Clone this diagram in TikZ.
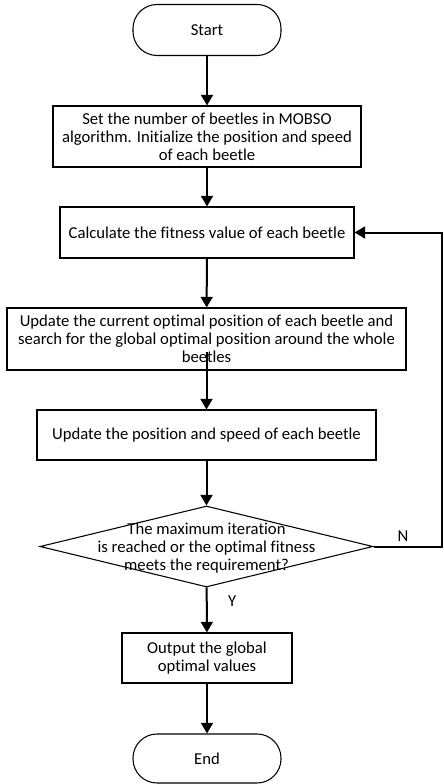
\documentclass[tikz,border=0pt]{standalone}
\usepackage{fontspec}
\setmainfont[Ligatures=NoCommon]{Carlito}
\usetikzlibrary{shapes.geometric,arrows.meta,positioning,calc}

\begin{document}
\begin{tikzpicture}[x=0.75pt, y=-0.75pt, font=\fontsize{12.5}{13.6}\selectfont,
    box/.style={draw, thick, align=center, inner sep=0pt},
    term/.style={draw, thick, rounded corners=18pt, minimum width=111pt},
    flow/.style={-{Triangle[length=8pt,width=9pt]}, line width=1.5pt}]
    \useasboundingbox (0,0) rectangle (443,784);

    % start
    \node[term, minimum height=38.25pt] (start) at (207,30) {Start};

    % init
    \node[box, minimum width=231pt, minimum height=45.75pt] (init) at (207,136.5)
        {Set the number of beetles in MOBSO\\algorithm. Initialize the position and speed\\of each beetle};

    % fitness
    \node[box, minimum width=220.5pt, minimum height=38.25pt] (fit) at (207,232.5)
        {Calculate the fitness value of each beetle};

    % best positions
    \node[box, minimum width=299.25pt, minimum height=46.5pt] (best) at (206.5,339)
        {Update the current optimal position of each beetle and\\search for the global optimal position around the whole\\beetles};

    % move beetles
    \node[box, minimum width=254.25pt, minimum height=37.5pt] (move) at (206.5,435)
        {Update the position and speed of each beetle};

    % stop test
    \node[draw, thick, diamond, inner sep=0pt, minimum width=249.75pt, minimum height=60.75pt] (stop) at (206.5,546.5) {};
    \node[align=center] (stoptxt) at ([yshift=-1pt]stop.center)
        {The maximum iteration\\is reached or the optimal fitness\\meets the requirement?};

    % output
    \node[box, minimum width=127.5pt, minimum height=37.5pt] (out) at (207,658)
        {Output the global\\optimal values};

    % end
    \node[term, minimum height=36.75pt] (end) at (207,758.5) {End};

    % arrows
    \coordinate (bestlow) at (206.5,352);
    \coordinate (loop) at (441.5,546.5);
    \draw[flow] (start) -- (init);
    \draw[flow] (init) -- (fit);
    \draw[flow] (fit) -- (best);
    \draw[flow] (bestlow) -- (move);
    \draw[flow] (move) -- (stop);
    \draw[flow] (stop) -- node[right=12pt, pos=0.3] (yes) {Y} (out);
    \draw[flow] (out) -- (end);
    \draw[flow] (stop.east) -- (loop) |- (fit.east);
    \node (no) at (403,536) {N};
\end{tikzpicture}
\end{document}
